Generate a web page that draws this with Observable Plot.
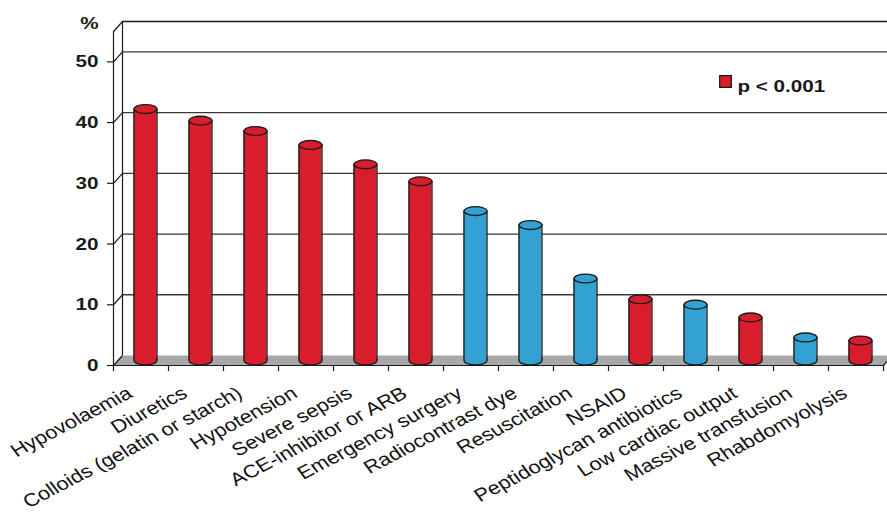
<!DOCTYPE html>
<html>
<head>
<meta charset="utf-8">
<script src="https://cdn.jsdelivr.net/npm/d3@7"></script>
<script src="https://cdn.jsdelivr.net/npm/@observablehq/plot@0.6"></script>
<style>
  body { margin: 0; background: #fff; }
  #chart svg { display: block; }
</style>
</head>
<body>
<div id="chart"></div>
<script>
// Risk factors and share of patients (%)
const categories = [
  "Hypovolaemia", "Diuretics", "Colloids (gelatin or starch)", "Hypotension",
  "Severe sepsis", "ACE-inhibitor or ARB", "Emergency surgery", "Radiocontrast dye",
  "Resuscitation", "NSAID", "Peptidoglycan antibiotics", "Low cardiac output",
  "Massive transfusion", "Rhabdomyolysis"
];
const values = [41.4, 39.5, 37.8, 35.5, 32.3, 29.5, 24.6, 22.3, 13.5, 10.1, 9.2, 7.1, 3.8, 3.3];
const significant = [true, true, true, true, true, true, false, false, false, true, false, true, false, true];
const yTicks = [0, 10, 20, 30, 40, 50];
const yTop = 55;
const axisUnit = "%";
const legendLabel = "p < 0.001";

// Styling
const RED = "#d81e2c", BLUE = "#33a2d3", FLOOR = "#a8a8a8", INK = "#1a1a1a", GRID = "#3a3a3a";
const FONT = "'Liberation Sans', Arial, Helvetica, sans-serif";
const FS = 17.2;        // axis and legend lettering
const FS_CAT = 18.2;    // category lettering
const n = categories.length;
const DX = 9 / 55;            // depth of the back wall, x units
const DY = 10 / (334 / 55);   // depth of the back wall, y units
const BAR = 23 / 55;          // cylinder width, x units

const bars = categories.map((name, i) => ({name, i, value: values[i], sig: significant[i]}));
const mid = (d) => d.i + 0.5 + DX / 2;
const color = (d) => (d.sig ? RED : BLUE);

// Elliptical symbol for cylinder caps
function ellipse(rx, ry) {
  const k = 0.5523;
  return {
    draw(c) {
      c.moveTo(rx, 0);
      c.bezierCurveTo(rx, ry * k, rx * k, ry, 0, ry);
      c.bezierCurveTo(-rx * k, ry, -rx, ry * k, -rx, 0);
      c.bezierCurveTo(-rx, -ry * k, -rx * k, -ry, 0, -ry);
      c.bezierCurveTo(rx * k, -ry, rx, -ry * k, rx, 0);
      c.closePath();
    }
  };
}
const cap = ellipse(11.5, 4.4);

const floor = [
  {x: 0, y: 0}, {x: n, y: 0}, {x: n + DX, y: DY}, {x: DX, y: DY}, {x: 0, y: 0}
];

const chart = Plot.plot({
  width: 887,
  height: 519,
  marginLeft: 113,
  marginRight: 4,
  marginTop: 31,
  marginBottom: 154,
  style: {fontFamily: FONT, color: INK, background: "#fff", overflow: "visible"},
  x: {domain: [0, n], axis: null},
  y: {domain: [0, yTop]},
  marks: [
    // back wall
    Plot.ruleY(yTicks.slice(1), {y: (d) => d + DY, x1: DX, x2: n + DX, stroke: GRID, strokeWidth: 1.3}),
    Plot.ruleY([yTop], {y: (d) => d + DY, x1: DX, x2: n + DX, stroke: INK, strokeWidth: 1.3}),
    Plot.ruleX([DX], {y1: DY, y2: yTop + DY, stroke: INK, strokeWidth: 1.2}),
    // floor
    Plot.line(floor, {x: "x", y: "y", fill: FLOOR, stroke: "none"}),
    // side wall edges
    Plot.link([...yTicks, yTop], {x1: 0, y1: (d) => d, x2: DX, y2: (d) => d + DY, stroke: INK, strokeWidth: 1.2}),
    Plot.link([n], {x1: n, y1: 0, x2: n + DX, y2: DY, stroke: INK, strokeWidth: 1.2}),
    Plot.ruleX([0], {y1: 0, y2: yTop, stroke: INK, strokeWidth: 1.2}),
    // front baseline and category ticks
    Plot.ruleY([0], {x1: 0, x2: n, stroke: INK, strokeWidth: 1.2}),
    Plot.ruleX(d3.range(n + 1), {y1: 0, y2: -1, stroke: INK, strokeWidth: 1.2}),
    // y axis
    Plot.axisY(yTicks, {tickSize: 6, tickPadding: 9, fontSize: FS, fontWeight: "bold", label: null, strokeWidth: 1.2}),
    Plot.text([axisUnit], {frameAnchor: "top-left", dx: -15, dy: -15, textAnchor: "end", fontWeight: "bold", fontSize: FS}),
    // cylinders
    Plot.dot(bars, {x: mid, y: DY / 2, symbol: cap, fill: color, stroke: INK, strokeWidth: 1.3}),
    Plot.rect(bars, {x1: (d) => mid(d) - BAR / 2, x2: (d) => mid(d) + BAR / 2, y1: DY / 2, y2: (d) => d.value + DY / 2, fill: color}),
    Plot.ruleX(bars, {x: (d) => mid(d) - BAR / 2, y1: DY / 2, y2: (d) => d.value + DY / 2, stroke: INK, strokeWidth: 1.3}),
    Plot.ruleX(bars, {x: (d) => mid(d) + BAR / 2, y1: DY / 2, y2: (d) => d.value + DY / 2, stroke: INK, strokeWidth: 1.3}),
    Plot.dot(bars, {x: mid, y: (d) => d.value + DY / 2, symbol: cap, fill: color, stroke: INK, strokeWidth: 1.3}),
    // category labels
    Plot.text(bars, {x: (d) => d.i + 0.5, y: 0, text: "name", rotate: -32, textAnchor: "end", dx: -11, dy: 26, fontSize: FS_CAT, fill: "#111"}),
    // legend
    Plot.dot([legendLabel], {frameAnchor: "top-right", dx: -158, dy: 50, symbol: "square", r: 6.6, fill: RED, stroke: INK, strokeWidth: 1.2}),
    Plot.text([legendLabel], {frameAnchor: "top-right", dx: -146, dy: 48, text: (d) => d, textAnchor: "start", fontWeight: "bold", fontSize: FS})
  ]
});

// Lettering is set slightly wide
function widen(svg, k) {
  for (const t of svg.querySelectorAll("text")) {
    const tr = t.getAttribute("transform");
    if (tr && tr.startsWith("translate")) {
      t.setAttribute("transform", tr.replace(/^(translate\([^)]*\))/, `$1 scale(${k},1)`));
    } else if (t.hasAttribute("x") && !isNaN(+t.getAttribute("x"))) {
      const x = +t.getAttribute("x"), y = +t.getAttribute("y") || 0;
      t.removeAttribute("x");
      t.removeAttribute("y");
      t.setAttribute("transform", `translate(${x},${y}) scale(${k},1)` + (tr ? " " + tr : ""));
    }
  }
}
widen(chart, 1.2);

document.getElementById("chart").append(chart);
</script>
</body>
</html>
